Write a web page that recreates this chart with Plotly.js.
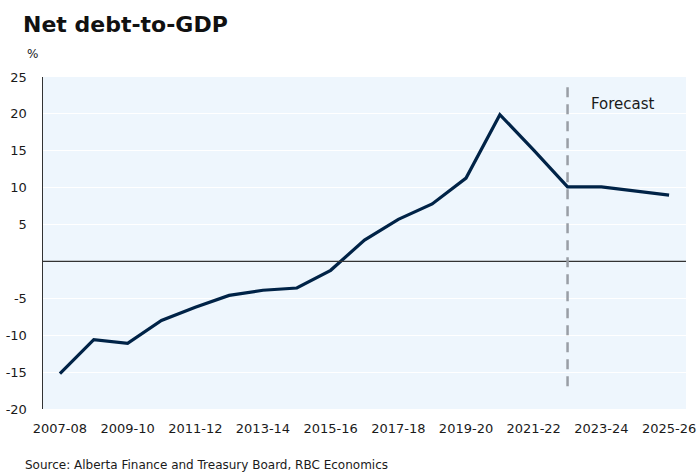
<!DOCTYPE html>
<html><head><meta charset="utf-8">
<script src="https://cdn.plot.ly/plotly-3.0.1.min.js"></script>
<style>html,body{margin:0;padding:0;background:#fff;}#chart{width:697px;height:472px;}</style>
</head><body><div id="chart"></div>
<script>
const years = ["2007-08","2008-09","2009-10","2010-11","2011-12","2012-13","2013-14","2014-15","2015-16","2016-17","2017-18","2018-19","2019-20","2020-21","2021-22","2022-23","2023-24","2024-25","2025-26"];
const netDebt = [-15.2,-10.6,-11.1,-8.0,-6.2,-4.6,-3.9,-3.6,-1.2,2.9,5.7,7.8,11.3,19.9,15.1,10.1,10.1,9.6,9.0];
const xTickLabels = ["2007-08","2009-10","2011-12","2013-14","2015-16","2017-18","2019-20","2021-22","2023-24","2025-26"];
const yTickVals = [-20,-15,-10,-5,5,10,15,20,25];
const yTickText = ["-20","-15","-10","-5","5","10","15","20","25"];
const forecastStart = "2022-23";

const font = "DejaVu Sans, Verdana, sans-serif";
const fcIdx = years.indexOf(forecastStart);

Plotly.newPlot("chart", [{
  x: years, y: netDebt, type: "scatter", mode: "lines",
  line: {color: "#002347", width: 3.2}, hoverinfo: "skip"
}], {
  width: 697, height: 472,
  margin: {l: 43, r: 11, t: 77, b: 63},
  paper_bgcolor: "#ffffff", plot_bgcolor: "#eef6fd",
  showlegend: false,
  font: {family: font, size: 13, color: "#1a1a1a"},
  xaxis: {
    type: "category", range: [-0.5, years.length - 0.5],
    tickmode: "array", tickvals: xTickLabels, ticktext: xTickLabels,
    showgrid: false, zeroline: false, showline: false, ticks: "",
    ticklabelstandoff: 10,
    tickfont: {family: font, size: 13, color: "#1a1a1a"}
  },
  yaxis: {
    range: [-20, 25], tickmode: "array", tickvals: yTickVals, ticktext: yTickText,
    showgrid: true, gridcolor: "#ffffff", gridwidth: 1.2,
    zeroline: false, showline: true, linecolor: "#333333", linewidth: 1.5,
    ticks: "", ticklabelstandoff: 12,
    tickfont: {family: font, size: 13, color: "#1a1a1a"}
  },
  shapes: [
    {type: "line", xref: "paper", yref: "y", x0: 0, x1: 1, y0: 0, y1: 0,
     line: {color: "#333333", width: 1.3}},
    {type: "line", xref: "x", yref: "y", x0: fcIdx, x1: fcIdx, y0: -16.9, y1: 24.3,
     line: {color: "#999ea5", width: 2.5, dash: "10px,7px"}}
  ],
  annotations: [
    {text: "<b>Net debt-to-GDP</b>", xref: "paper", yref: "paper", x: 0, y: 1.0,
     xanchor: "left", yanchor: "bottom", yshift: 38, xshift: -22, showarrow: false,
     font: {family: font, size: 22, color: "#111111"}},
    {text: "%", xref: "paper", yref: "paper", x: 0, y: 1, xanchor: "left", yanchor: "bottom",
     xshift: -18, yshift: 14, showarrow: false, font: {family: font, size: 12, color: "#1a1a1a"}},
    {text: "Forecast", xref: "x", yref: "y", x: fcIdx, y: 21.3, xanchor: "left", xshift: 21,
     showarrow: false, font: {family: font, size: 15, color: "#1a1a1a"}},
    {text: "Source: Alberta Finance and Treasury Board, RBC Economics", xref: "paper", yref: "paper",
     x: 0, y: 0, xanchor: "left", yanchor: "top", xshift: -20, yshift: -47, showarrow: false,
     font: {family: font, size: 12, color: "#1a1a1a"}}
  ]
}, {staticPlot: true, displayModeBar: false});
</script></body></html>
